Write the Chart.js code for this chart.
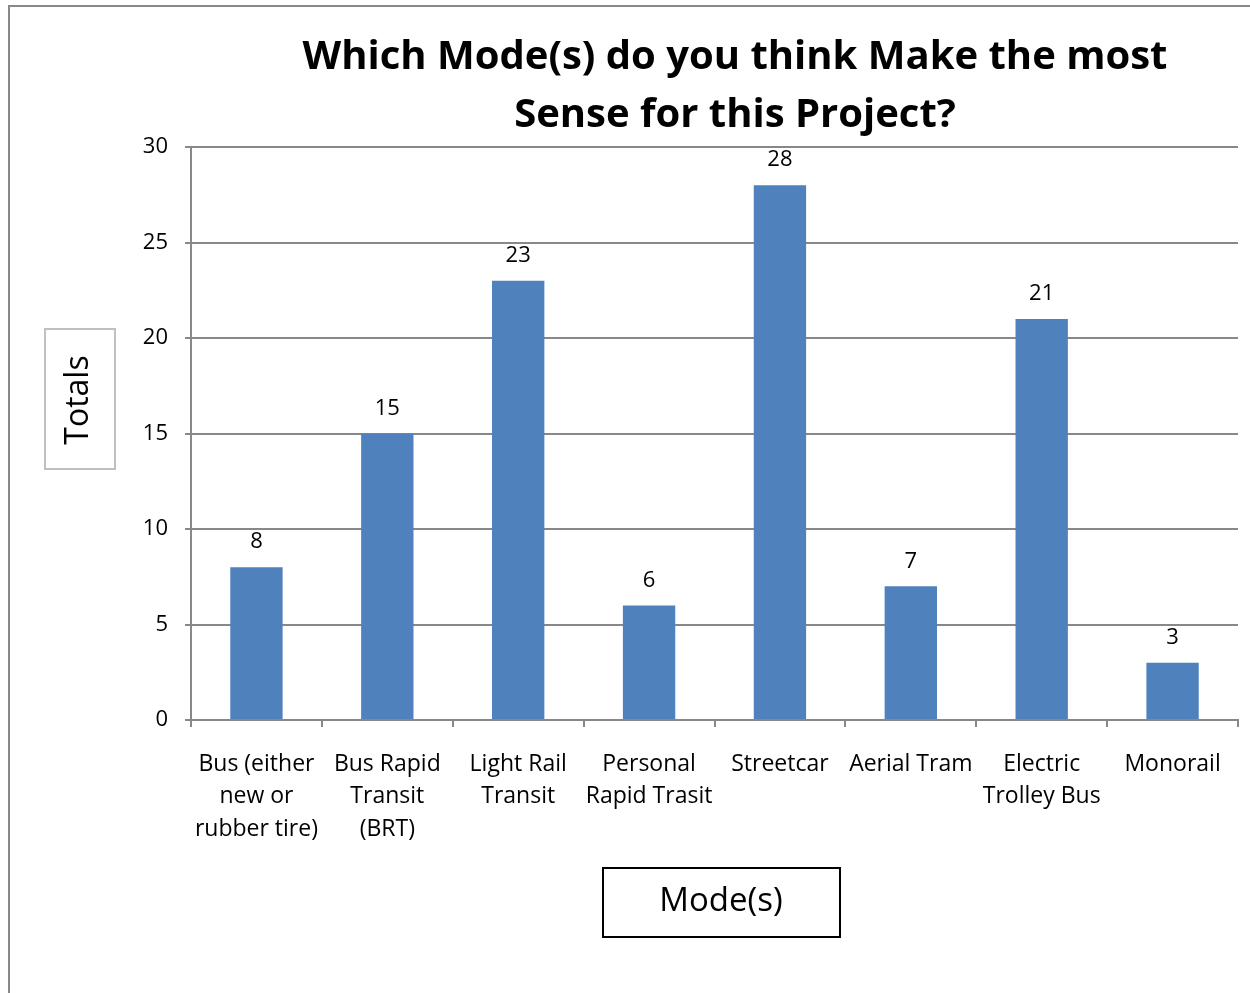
<!DOCTYPE html>
<html>
<head>
<meta charset="utf-8">
<script src="https://cdn.jsdelivr.net/npm/chart.js@4.4.1/dist/chart.umd.min.js"></script>
<style>
  html, body { margin: 0; padding: 0; background: #fff; }
  #wrap { width: 1250px; height: 993px; position: relative; }
</style>
</head>
<body>
<div id="wrap"><canvas id="modes"></canvas></div>
<script>
const categories = [
  ["Bus (either", "new or", "rubber tire)"],
  ["Bus Rapid", "Transit", "(BRT)"],
  ["Light Rail", "Transit"],
  ["Personal", "Rapid Trasit"],
  ["Streetcar"],
  ["Aerial Tram"],
  ["Electric", "Trolley Bus"],
  ["Monorail"],
];
const totals = [8, 15, 23, 6, 28, 7, 21, 3];
const yTicks = [0, 5, 10, 15, 20, 25, 30];
const titleLines = ["Which Mode(s) do you think Make the most", "Sense for this Project?"];

const FONT = "'Open Sans', 'Noto Sans', sans-serif";

// frame, title, boxed axis titles and the value labels above each bar
const decorations = {
  id: "decorations",
  beforeDraw(chart) {
    const ctx = chart.ctx;
    ctx.save();
    ctx.fillStyle = "#fff";
    ctx.fillRect(0, 0, chart.width, chart.height);
    ctx.strokeStyle = "#888";
    ctx.lineWidth = 2;
    ctx.strokeRect(9, 6, chart.width + 20, chart.height + 20);
    ctx.restore();
  },
  afterDraw(chart) {
    const ctx = chart.ctx;
    ctx.save();

    ctx.fillStyle = "#000";
    ctx.textAlign = "center";
    ctx.textBaseline = "middle";
    ctx.font = "bold 40px " + FONT;
    ctx.fillText(titleLines[0], 735, 58);
    ctx.fillText(titleLines[1], 735, 116);

    // y axis title box
    ctx.strokeStyle = "#c0c0c0";
    ctx.lineWidth = 2;
    ctx.strokeRect(45, 329, 70, 140);
    ctx.save();
    ctx.translate(79, 400);
    ctx.rotate(-Math.PI / 2);
    ctx.font = "32px " + FONT;
    ctx.fillText("Totals", 0, 0);
    ctx.restore();

    // x axis title box
    ctx.strokeStyle = "#000";
    ctx.strokeRect(603, 868, 237, 69);
    ctx.font = "33px " + FONT;
    ctx.fillText("Mode(s)", 721, 902);

    // value labels
    ctx.font = "22px " + FONT;
    const meta = chart.getDatasetMeta(0);
    meta.data.forEach((bar, i) => {
      ctx.fillText(String(totals[i]), bar.x, bar.y - 25);
    });
    ctx.restore();
  },
};

new Chart(document.getElementById("modes"), {
  type: "bar",
  data: {
    labels: categories,
    datasets: [{
      label: "Totals",
      data: totals,
      backgroundColor: "#4F81BD",
      borderWidth: 0,
      barPercentage: 0.4,
      categoryPercentage: 1.0,
    }],
  },
  options: {
    responsive: true,
    maintainAspectRatio: false,
    animation: false,
    layout: { padding: { left: 0, top: 147, right: 12, bottom: 0 } },
    plugins: {
      legend: { display: false },
      title: { display: false },
      tooltip: { enabled: false },
    },
    scales: {
      x: {
        afterFit: (s) => { s.height = 273; },
        border: { color: "#888", width: 2 },
        grid: { display: true, drawOnChartArea: false, tickLength: 7, color: "#888", lineWidth: 2, offset: true },
        ticks: {
          color: "#000",
          padding: 21,
          maxRotation: 0,
          autoSkip: false,
          font: { family: FONT, size: 23, lineHeight: 1.41 },
        },
      },
      y: {
        min: 0,
        max: 30,
        afterFit: (s) => { s.width = 191; },
        afterBuildTicks: (s) => { s.ticks = yTicks.map((v) => ({ value: v })); },
        border: { color: "#888", width: 2 },
        grid: { color: "#888", lineWidth: 2, tickLength: 6 },
        ticks: {
          color: "#000",
          padding: 17,
          font: { family: FONT, size: 22 },
        },
      },
    },
  },
  plugins: [decorations],
});
</script>
</body>
</html>
